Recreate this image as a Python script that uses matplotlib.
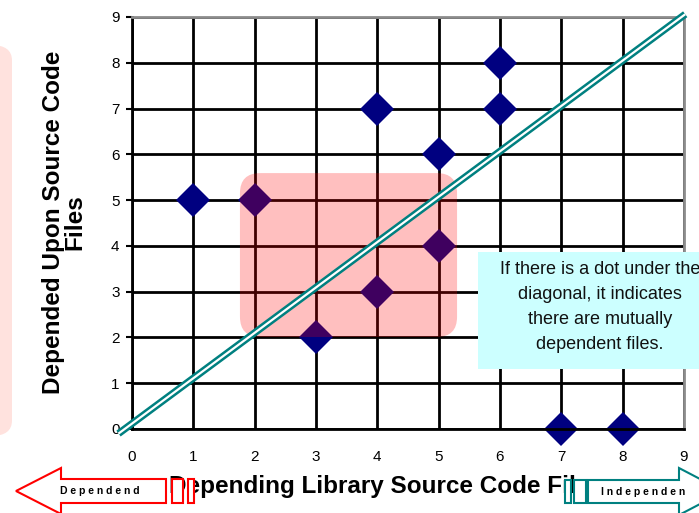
import matplotlib
matplotlib.use('Agg')
from matplotlib import pyplot as plt
from matplotlib.patches import Polygon, Rectangle, FancyBboxPatch

plt.rcParams['font.family'] = ['Liberation Sans', 'DejaVu Sans']

# depending library files (x) vs depended upon files (y)
library_files = [1, 2, 3, 4, 4, 5, 5, 6, 6, 7, 8]
depended_files = [5, 5, 2, 7, 3, 6, 4, 8, 7, 0, 0]
ticks = list(range(10))

W, H = 699, 513
fig = plt.figure(figsize=(W / 100, H / 100), dpi=100)


def fx(px):
    return px / W


def fy(py):
    return 1 - py / H


# plot area in pixels: x 132..684, y 17..429
ax = fig.add_axes([fx(132), fy(429), fx(684) - fx(132), fy(17) - fy(429)])
ax.set_xlim(0, 9)
ax.set_ylim(0, 9)
ax.set_xticks(ticks)
ax.set_yticks(ticks)
ax.set_axisbelow(True)
ax.grid(True, color='black', linewidth=2)
for lado in ('top', 'right'):
    ax.spines[lado].set_color('#8c8c8c')
    ax.spines[lado].set_linewidth(2)
for lado in ('left', 'bottom'):
    ax.spines[lado].set_color('black')
    ax.spines[lado].set_linewidth(2)
ax.tick_params(axis='y', length=4, width=1.5, pad=5, labelsize=11)
ax.tick_params(axis='x', length=0, pad=15, labelsize=11)

ax.plot(library_files, depended_files, 'D', color='#000080', markersize=17,
        markeredgewidth=0, clip_on=False, zorder=2)

# caixa rosa destacando a região ambígua
destaque = FancyBboxPatch((1.76, 2.01), 5.30 - 1.76, 5.59 - 2.01,
                          boxstyle='round,pad=0,rounding_size=0.33',
                          mutation_aspect=61.3 / 45.8,
                          facecolor=(1, 0, 0, 0.25), edgecolor='none', zorder=3)
ax.add_patch(destaque)

# diagonal dupla
diag_x = [-0.22, 9.02]
diag_y = [-0.1, 9.06]
ax.plot(diag_x, diag_y, color='#008080', linewidth=5.2, clip_on=False,
        solid_capstyle='butt', zorder=4)
ax.plot(diag_x, diag_y, color='white', linewidth=1.6, clip_on=False,
        solid_capstyle='butt', zorder=4.1)

# caixa explicativa
caixa = Rectangle((fx(478), fy(369)), fx(730) - fx(478), fy(252) - fy(369),
                  transform=fig.transFigure, facecolor='#ccffff',
                  edgecolor='none', zorder=5)
fig.add_artist(caixa)
fig.text(fx(600), fy(307),
         'If there is a dot under the\ndiagonal, it indicates\n'
         'there are mutually\ndependent files.',
         ha='center', va='center', fontsize=13, linespacing=1.6,
         color='#111111', zorder=6)

# faixa rosa na esquerda (quase toda fora da figura)
faixa = FancyBboxPatch((fx(-60), fy(436)), fx(72), fy(45) - fy(436),
                       boxstyle='round,pad=0,rounding_size=0.03',
                       transform=fig.transFigure, facecolor='#ffe2de',
                       edgecolor='none', zorder=1)
fig.add_artist(faixa)

fig.text(fx(64), fy(222), 'Depended Upon Source Code\nFiles', rotation=90,
         ha='center', va='center', fontsize=17.5, fontweight='bold',
         multialignment='center', linespacing=0.9)
fig.text(fx(386), fy(486), 'Depending Library Source Code Files',
         ha='center', va='center', fontsize=17.5, fontweight='bold')

# setas
vermelho = '#ff0000'
seta_esq = [(16, 491), (61, 468), (61, 479), (166, 479), (166, 503),
            (61, 503), (61, 514)]
fig.add_artist(Polygon([(fx(a), fy(b)) for a, b in seta_esq],
                       transform=fig.transFigure, facecolor='white',
                       edgecolor=vermelho, linewidth=1.5, zorder=7))
for x0, x1 in [(172, 183), (188, 194)]:
    fig.add_artist(Rectangle((fx(x0), fy(503)), fx(x1) - fx(x0), fy(479) - fy(503),
                             transform=fig.transFigure, facecolor='white',
                             edgecolor=vermelho, linewidth=1.5, zorder=7))
fig.text(fx(100), fy(491), 'D e p e n d e n d', ha='center', va='center',
         fontsize=7.5, fontweight='bold', zorder=8)

verde = '#008080'
seta_dir = [(588, 480), (679, 480), (679, 468), (724, 491.5), (679, 515),
            (679, 503), (588, 503)]
fig.add_artist(Polygon([(fx(a), fy(b)) for a, b in seta_dir],
                       transform=fig.transFigure, facecolor='white',
                       edgecolor=verde, linewidth=1.5, zorder=7))
for x0, x1 in [(565, 571), (574, 586)]:
    fig.add_artist(Rectangle((fx(x0), fy(503)), fx(x1) - fx(x0), fy(480) - fy(503),
                             transform=fig.transFigure, facecolor='white',
                             edgecolor=verde, linewidth=1.5, zorder=7))
fig.text(fx(643), fy(492), 'I n d e p e n d e n', ha='center', va='center',
         fontsize=7.5, fontweight='bold', zorder=8)

fig.savefig('out.png', dpi=100)
